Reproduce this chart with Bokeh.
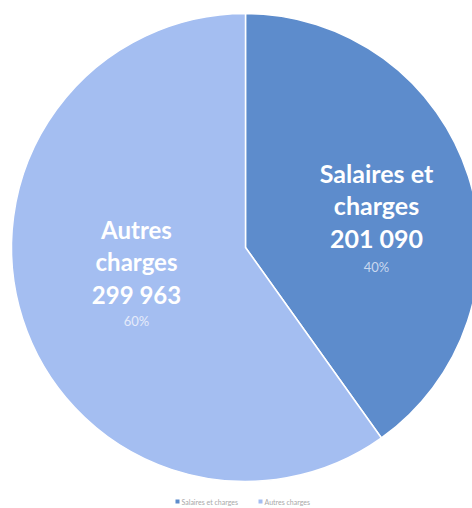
import math
from bokeh.plotting import figure
from bokeh.models import Range1d
from bokeh.core.properties import value
from bokeh.embed import file_html
from bokeh.resources import INLINE

# ---- data ----
categories = ["Salaires et charges", "Autres charges"]
label_lines = [["Salaires et", "charges"], ["Autres", "charges"]]
amounts = [201090, 299963]
colors = ["#5d8ccc", "#a4bef1"]
pct_colors = ["#c9d8ef", "#e4ebfa"]

total = sum(amounts)
W, H = 472, 508

def Y(py):  # picture y -> data y
    return H - py

p = figure(width=W, height=H, output_backend="svg", toolbar_location=None,
           x_range=Range1d(0, W), y_range=Range1d(0, H),
           min_border=0)
p.axis.visible = False
p.grid.visible = False
p.outline_line_color = None
p.background_fill_color = "white"
p.border_fill_color = "white"

cx, cy, R = 245, 247, 234

cum = 0.0
starts, ends = [], []
for a in amounts:
    frac = a / total
    starts.append(math.pi / 2 - cum * 2 * math.pi)
    cum += frac
    ends.append(math.pi / 2 - cum * 2 * math.pi)

p.wedge(x=[cx] * 2, y=[Y(cy)] * 2, radius=R, radius_units="screen",
        start_angle=starts, end_angle=ends, direction="clock",
        fill_color=colors, line_color="white", line_width=1.5)

# ---- labels ----
label_pos = [
    dict(x=376, mid=[172, 204, 237], pct=266, size=25),
    dict(x=136, mid=[229, 261, 294], pct=320, size=24),
]
for i, cat in enumerate(categories):
    lp = label_pos[i]
    lines = label_lines[i] + [f"{amounts[i]:,}".replace(",", " ")]
    p.text(x=[lp["x"]] * len(lines), y=[Y(b) for b in lp["mid"]], text=lines,
           text_font=value("Lato"), text_font_style="bold",
           text_font_size=f"{lp['size']}px", text_color="white",
           text_align="center", text_baseline="middle")
    pct = f"{round(amounts[i] / total * 100)}%"
    p.text(x=[lp["x"]], y=[Y(lp["pct"])], text=[pct],
           text_font=value("Lato"), text_font_size="13px",
           text_color=pct_colors[i], text_align="center",
           text_baseline="middle")

# ---- legend ----
leg_y = 501
leg_x = [177, 260]
for i, cat in enumerate(categories):
    p.scatter(x=[leg_x[i]], y=[Y(leg_y)], marker="square", size=4,
              fill_color=colors[i], line_color=None)
    p.text(x=[leg_x[i] + 4], y=[Y(leg_y)], text=[cat],
           text_font=value("Lato"), text_font_size="7px",
           text_color="#a8a8a8", text_align="left", text_baseline="middle")

open("out.html", "w").write(file_html(p, INLINE))
